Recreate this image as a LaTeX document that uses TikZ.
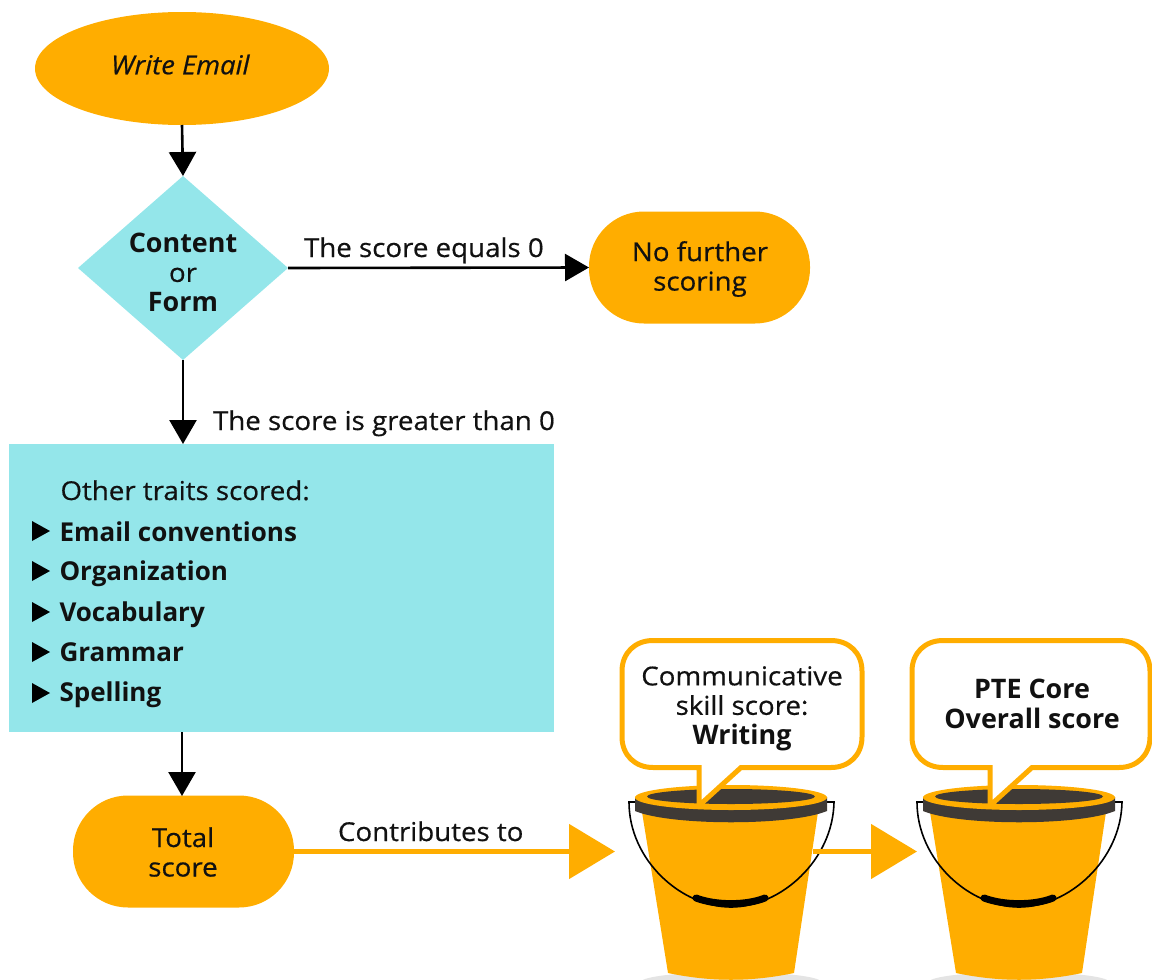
\documentclass[tikz,border=0pt]{standalone}
\usepackage{fontspec}
\setmainfont{Open Sans}[UprightFeatures={FakeBold=0.5,FakeStretch=1.065},ItalicFeatures={FakeBold=0.5,FakeStretch=1.055}]
\usetikzlibrary{shapes.geometric,arrows.meta}
\definecolor{orng}{HTML}{FFAD00}
\definecolor{cyn}{HTML}{94E6EA}
\definecolor{rimdark}{HTML}{3F3A36}
\definecolor{floorgray}{HTML}{E4E4E4}
\definecolor{ink}{HTML}{111111}
\newcommand{\txt}{\fontsize{26}{29.5}\selectfont}
\newcommand{\wide}[1]{{\fontsize{26.9}{29.5}\selectfont\bfseries #1}}
\tikzset{
  x=1pt,y=-1pt,
  every node/.style={text=ink,font=\txt,inner sep=0pt,outer sep=0pt},
  pill/.style={fill=orng,rounded corners=55pt,minimum width=221pt,minimum height=112pt},
  blackflow/.style={draw=black,line width=2.6pt,-{Triangle[length=24pt,width=27pt]}},
  orangeflow/.style={draw=orng,line width=5pt,-{Triangle[length=46pt,width=54pt]}},
  lab/.style={anchor=base west},
  traitmark/.style={fill=black},
  bubbletext/.style={align=center},
  bubbleedge/.style={draw=orng,line width=5pt,fill=white,line join=miter},
}
\newcommand{\bucket}[1]{%
\begin{scope}[shift={(#1,0)}]
  \fill[floorgray] (0,982) ellipse (90 and 10);
  \fill[orng] (-89,812) -- (87,812) -- (63,973) .. controls (20,982) and (-20,982) .. (-63,973) -- cycle;
  \draw[black,line width=1.6pt] (-96,802) -- (-102,802) .. controls (-102,860) and (-50,907) .. (0,907)
     .. controls (50,907) and (102,860) .. (103,802) -- (96,802);
  \draw[black,line width=7pt,line cap=round] (-35,898) .. controls (-15,905.5) and (15,905.5) .. (34,898);
  \fill[rimdark] (-96,797) -- (-96,811) .. controls (-60,826) and (60,826) .. (96,811) -- (96,797) -- cycle;
  \fill[orng] (0,797.5) ellipse (96 and 12.5);
  \fill[rimdark] (0,796.5) ellipse (84 and 7.5);
\end{scope}}
\newcommand{\bubble}[3]{% left, right, tail-left
  \path[bubbleedge] (#1+31,640.5) -- (#2-31,640.5)
    .. controls (#2-13,640.5) and (#2,653) .. (#2,671) -- (#2,737)
    .. controls (#2,755) and (#2-13,767.5) .. (#2-31,767.5)
    -- (#3+42,767.5) -- (#3+4,802) -- (#3,803) -- (#3,767.5) -- (#1+31,767.5)
    .. controls (#1+13,767.5) and (#1,755) .. (#1,737) -- (#1,671)
    .. controls (#1,653) and (#1+13,640.5) .. (#1+31,640.5) -- cycle;}
\begin{document}
\begin{tikzpicture}
\useasboundingbox (0,0) rectangle (1152,980);
\clip (0,0) rectangle (1152,980);
% process shapes
\node[ellipse,fill=orng,minimum width=294pt,minimum height=113pt] (write) at (182,68.5) {};
\node (writetext) at (180.5,64.5) {\textit{Write Email}};
\node[diamond,fill=cyn,aspect=1.141,minimum width=210pt,minimum height=184pt] (gate) at (183,268) {};
\node[align=center] (gatetext) at (183,272.3) {\wide{Content}\\or\\\wide{Form}};
\node[pill] (stop) at (699.5,267.5) {};
\node[align=center] (stoptext) at (700,269) {No further\\scoring};
\node[fill=cyn,minimum width=545pt,minimum height=288pt] (traits) at (281.5,588) {};
\node[pill] (total) at (183.5,851.5) {};
\node[align=center] (totaltext) at (183,852) {Total\\score};
% buckets
\coordinate (tipa) at (615,851.5);
\coordinate (bucketa) at (813,851.5);
\coordinate (tipb) at (917,851.5);
\coordinate (totaltop) at (182,796);
\draw[orangeflow] (total.east) -- (tipa);
\bucket{731}
\bucket{1019}
\draw[orangeflow] (bucketa) -- (tipb);
\bubble{622}{862}{699}
\bubble{912}{1150}{990}
\node[bubbletext] (skill) at (742,708.5) {Communicative\\skill score:\\\wide{Writing}};
\node[bubbletext] (overall) at (1032,704) {\wide{PTE Core}\\\wide{Overall score}};
% flow
\draw[blackflow] (write.south) -- (gate.north);
\draw[blackflow] (gate.east) -- (stop.west);
\draw[blackflow] (gate.south) -- (traits.north -| gate.south);
\draw[blackflow] (traits.south -| totaltop) -- (totaltop);
% labels
\node[lab] (zero) at (304,257) {The score equals 0};
\node[lab] (more) at (213,430) {The score is greater than 0};
\node[lab] (contrib) at (338,841) {Contributes to};
% trait list
\node[lab] (head) at (60.5,500) {Other traits scored:};
\node[lab] (t1) at (59.5,541) {\textbf{Email conventions}};
\node[lab] (t2) at (59.5,580) {\textbf{Organization}};
\node[lab] (t3) at (59.5,621) {\textbf{Vocabulary}};
\node[lab] (t4) at (59.5,661) {\textbf{Grammar}};
\node[lab] (t5) at (59.5,701) {\textbf{Spelling}};
\foreach \yy in {531,571,612,652,693}
  \fill[traitmark] (32,\yy-10) -- (50,\yy) -- (32,\yy+10) -- cycle;
\end{tikzpicture}
\end{document}
